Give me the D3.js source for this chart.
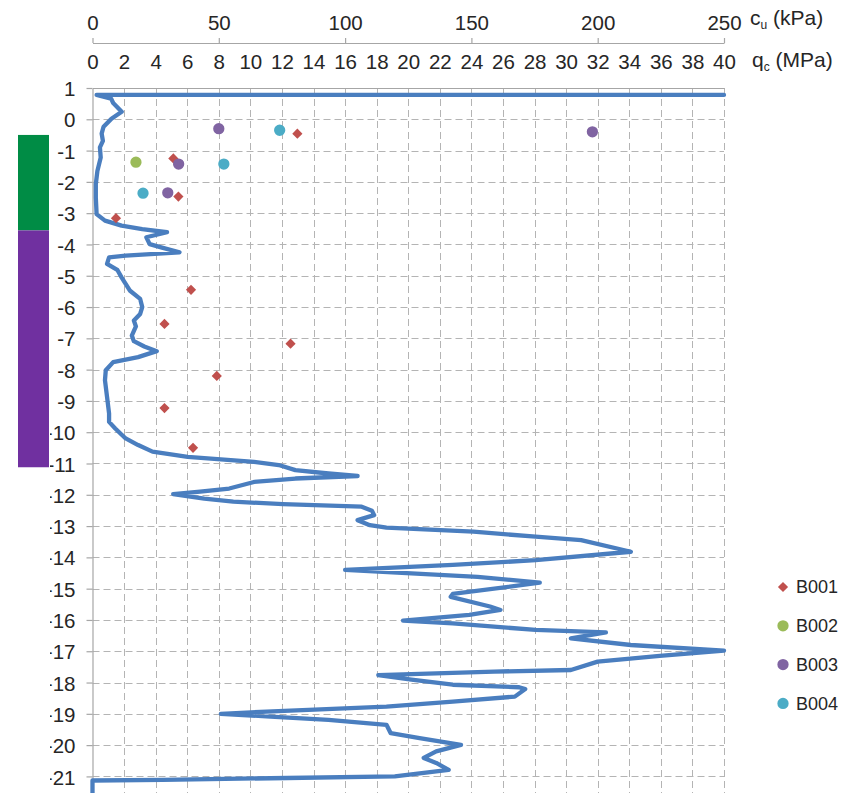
<!DOCTYPE html>
<html>
<head>
<meta charset="utf-8">
<script src="https://cdn.jsdelivr.net/npm/d3@7"></script>
<style>
  html, body { margin: 0; padding: 0; background: #fff; }
  svg { display: block; font-family: "Liberation Sans", Arial, sans-serif; }
</style>
</head>
<body>
<svg id="chart" width="866" height="793"></svg>
<script>
// CPT sounding: cone resistance qc (MPa) against level (m)
const cptQc = [40.00, 0.26, 1.18, 1.31, 1.85, 1.20, 0.70, 0.58, 0.66, 0.47, 0.52, 0.31, 0.21, 0.21, 0.26,
  0.79, 1.84, 3.15, 4.72, 3.41, 3.62, 4.46, 5.51, 2.10, 1.05, 0.92, 1.57, 1.84, 2.36, 3.02, 3.15,
  3.02, 2.62, 2.75, 2.49, 2.62, 3.28, 4.07, 2.89, 1.31, 0.84, 0.79, 0.92, 1.05, 1.05, 1.44, 2.10,
  2.89, 3.80, 6.03, 8.13, 10.23, 11.80, 12.85, 14.95, 16.79, 12.85, 10.23, 8.66, 6.82, 5.11, 7.08,
  8.92, 12.07, 17.05, 17.70, 17.84, 16.79, 17.57, 18.62, 24.13, 28.07, 30.95, 34.10, 28.07, 22.82,
  16.00, 20.20, 24.39, 28.33, 22.82, 22.69, 25.18, 25.84, 23.87, 19.67, 22.82, 28.07, 32.52, 30.30,
  34.10, 40.00, 35.93, 32.00, 30.30, 25.44, 18.10, 20.20, 22.82, 27.02, 27.41, 26.75, 22.82, 18.62,
  11.02, 8.13, 11.28, 14.95, 18.62, 18.89, 20.72, 23.34, 21.77, 20.98, 21.77, 22.56, 19.15, 12.33,
  4.46, 0.00, 0.00];
const cptLevel = [0.78, 0.78, 0.66, 0.52, 0.24, 0.02, -0.24, -0.46, -0.69, -0.90, -1.22, -1.65, -2.07, -2.50, -3.03,
  -3.24, -3.40, -3.51, -3.61, -3.77, -3.99, -4.11, -4.25, -4.36, -4.41, -4.62, -4.81, -5.05, -5.47, -5.74, -6.00,
  -6.22, -6.43, -6.62, -6.91, -7.09, -7.26, -7.41, -7.60, -7.76, -8.02, -8.34, -8.87, -9.40, -9.67, -9.88, -10.20,
  -10.41, -10.62, -10.79, -10.87, -10.95, -11.05, -11.21, -11.32, -11.40, -11.48, -11.59, -11.80, -11.90, -11.98, -12.12,
  -12.22, -12.30, -12.38, -12.51, -12.65, -12.81, -12.97, -13.05, -13.18, -13.34, -13.45, -13.82, -14.09, -14.24,
  -14.40, -14.51, -14.62, -14.81, -15.17, -15.26, -15.57, -15.68, -15.84, -16.02, -16.11, -16.32, -16.40, -16.59,
  -16.80, -16.98, -17.15, -17.33, -17.60, -17.65, -17.76, -17.91, -18.07, -18.15, -18.21, -18.45, -18.61, -18.77,
  -18.93, -19.00, -19.09, -19.19, -19.35, -19.62, -19.78, -19.99, -20.20, -20.41, -20.57, -20.79, -21.00, -21.05,
  -21.11, -21.13, -21.70];

// Undrained shear strength cu (kPa) from the boreholes
const boreholes = ["B001", "B002", "B003", "B004"];
const b001Cu = [81.1, 32.0, 34.0, 9.3, 39.0, 28.5, 78.4, 49.2, 28.5, 39.8];
const b001Level = [-0.46, -1.25, -2.47, -3.16, -5.45, -6.54, -7.17, -8.20, -9.23, -10.50];
const b002Cu = [17.2];
const b002Level = [-1.37];
const b003Cu = [50.0, 197.9, 34.1, 29.8];
const b003Level = [-0.30, -0.40, -1.43, -2.35];
const b004Cu = [74.1, 52.0, 20.0];
const b004Level = [-0.35, -1.43, -2.36];

// Soil layers shown beside the level axis
const layerTop = [-0.50, -3.55];
const layerBottom = [-3.55, -11.12];

// Tick labels
const cuTicks = [0, 50, 100, 150, 200, 250];
const qcTicks = d3.range(0, 41, 2);
const levelTicks = d3.range(1, -22, -1);

(function draw() {
  const seriesColor = { B001: "#C0504D", B002: "#9BBB59", B003: "#8064A2", B004: "#4BACC6" };
  const layerColor = ["#008C45", "#7030A0"];
  const textColor = "#262626";
  const axisColor = "#A6A6A6";
  const tickFont = 20.5;

  const plotLeft = 92.5, plotRight = 724, plotTop = 88, plotBottom = 793;
  const labelAreaLeft = 50;
  const svg = d3.select("#chart");

  const x = d3.scaleLinear().domain([0, 40]).range([plotLeft, plotRight]);
  const xCu = d3.scaleLinear().domain([0, 250]).range([plotLeft, plotRight]);
  const y = d3.scaleLinear().domain([1, -21.53]).range([plotTop, plotBottom]);

  // layers
  svg.append("g").selectAll("rect")
    .data(layerTop.map((t, i) => ({ t, b: layerBottom[i], c: layerColor[i] })))
    .join("rect")
    .attr("x", 18).attr("width", 31)
    .attr("y", d => y(d.t)).attr("height", d => y(d.b) - y(d.t))
    .attr("fill", d => d.c);

  // grid
  const grid = svg.append("g").attr("stroke", "#B4B4B4").attr("stroke-width", 1).attr("stroke-dasharray", "7,4");
  grid.selectAll("line.h").data(levelTicks.filter(v => v < 1)).join("line").attr("class", "h")
    .attr("x1", plotLeft).attr("x2", plotRight)
    .attr("y1", d => Math.round(y(d)) + 0.5).attr("y2", d => Math.round(y(d)) + 0.5);
  grid.selectAll("line.v").data(qcTicks.filter(v => v > 0)).join("line").attr("class", "v")
    .attr("y1", plotTop).attr("y2", plotBottom)
    .attr("x1", d => Math.round(x(d)) + 0.5).attr("x2", d => Math.round(x(d)) + 0.5);

  function styleAxis(g) {
    g.select(".domain").attr("stroke", axisColor).attr("stroke-width", 1.2);
    g.selectAll(".tick line").attr("stroke", axisColor).attr("stroke-width", 1.2);
    g.selectAll(".tick text").attr("fill", textColor).attr("font-size", tickFont)
      .attr("font-family", "Liberation Sans, Arial, sans-serif");
  }

  // level axis; its labels are confined to the label area left of the plot
  const labelClip = svg.append("defs").append("clipPath").attr("id", "level-labels")
    .attr("clipPathUnits", "userSpaceOnUse");
  labelClip.append("rect").attr("x", labelAreaLeft - plotLeft).attr("y", -400).attr("width", 60).attr("height", 800);

  const yAxis = svg.append("g").attr("transform", `translate(${plotLeft},0)`)
    .call(d3.axisLeft(y).tickValues(levelTicks).tickFormat(d => String(d)).tickSizeInner(6).tickSizeOuter(0).tickPadding(11));
  styleAxis(yAxis);
  yAxis.selectAll(".tick text").attr("dy", "0.37em").attr("clip-path", "url(#level-labels)");

  // qc axis (top of plot)
  const qcAxis = svg.append("g").attr("transform", `translate(0,${plotTop})`)
    .call(d3.axisTop(x).tickValues(qcTicks).tickFormat(d3.format("d")).tickSizeInner(0).tickSizeOuter(0).tickPadding(19));
  styleAxis(qcAxis);
  qcAxis.selectAll(".tick text").attr("dy", "0em");

  // cu axis
  const cuAxis = svg.append("g").attr("transform", "translate(0,43)")
    .call(d3.axisTop(xCu).tickValues(cuTicks).tickFormat(d3.format("d")).tickSizeInner(5).tickSizeOuter(0).tickPadding(8));
  styleAxis(cuAxis);
  cuAxis.selectAll(".tick text").attr("dy", "0em");

  // axis titles
  const cuTitle = svg.append("text").attr("x", 750).attr("y", 25).attr("fill", textColor).attr("font-size", 21);
  cuTitle.append("tspan").text("c");
  cuTitle.append("tspan").attr("font-size", 12).attr("dy", 4).text("u");
  cuTitle.append("tspan").attr("dy", -4).text(" (kPa)");
  const qcTitle = svg.append("text").attr("x", 752).attr("y", 67).attr("fill", textColor).attr("font-size", 21);
  qcTitle.append("tspan").text("q");
  qcTitle.append("tspan").attr("font-size", 12).attr("dy", 4).text("c");
  qcTitle.append("tspan").attr("dy", -4).text(" (MPa)");

  // CPT trace
  const cpt = cptQc.map((q, i) => [q, cptLevel[i]]);
  svg.append("path").datum(cpt)
    .attr("fill", "none").attr("stroke", "#4A7EBF").attr("stroke-width", 4.3)
    .attr("stroke-linejoin", "round").attr("stroke-linecap", "round")
    .attr("d", d3.line().x(d => x(d[0])).y(d => y(d[1])));

  // borehole markers
  const series = [
    { name: "B001", cu: b001Cu, lv: b001Level },
    { name: "B002", cu: b002Cu, lv: b002Level },
    { name: "B003", cu: b003Cu, lv: b003Level },
    { name: "B004", cu: b004Cu, lv: b004Level }
  ];
  const diamond = d3.symbol(d3.symbolSquare, 52)();
  const circle = d3.symbol(d3.symbolCircle, 100)();
  function marker(sel, name) {
    sel.attr("d", name === "B001" ? diamond : circle)
      .attr("fill", seriesColor[name]);
  }
  series.forEach(s => {
    svg.append("g").selectAll("path")
      .data(s.cu.map((c, i) => [c, s.lv[i]]))
      .join("path")
      .call(marker, s.name)
      .attr("transform", d => `translate(${xCu(d[0])},${y(d[1])})` + (s.name === "B001" ? " rotate(45)" : ""));
  });

  // legend
  const legend = svg.append("g");
  boreholes.forEach((name, i) => {
    const ly = 587 + i * 38.8;
    legend.append("path").call(marker, name)
      .attr("transform", `translate(783,${ly})` + (name === "B001" ? " rotate(45)" : ""));
    legend.append("text").attr("x", 796).attr("y", ly).attr("dy", "0.36em")
      .attr("fill", textColor).attr("font-size", 18).text(name);
  });
})();
</script>
</body>
</html>
